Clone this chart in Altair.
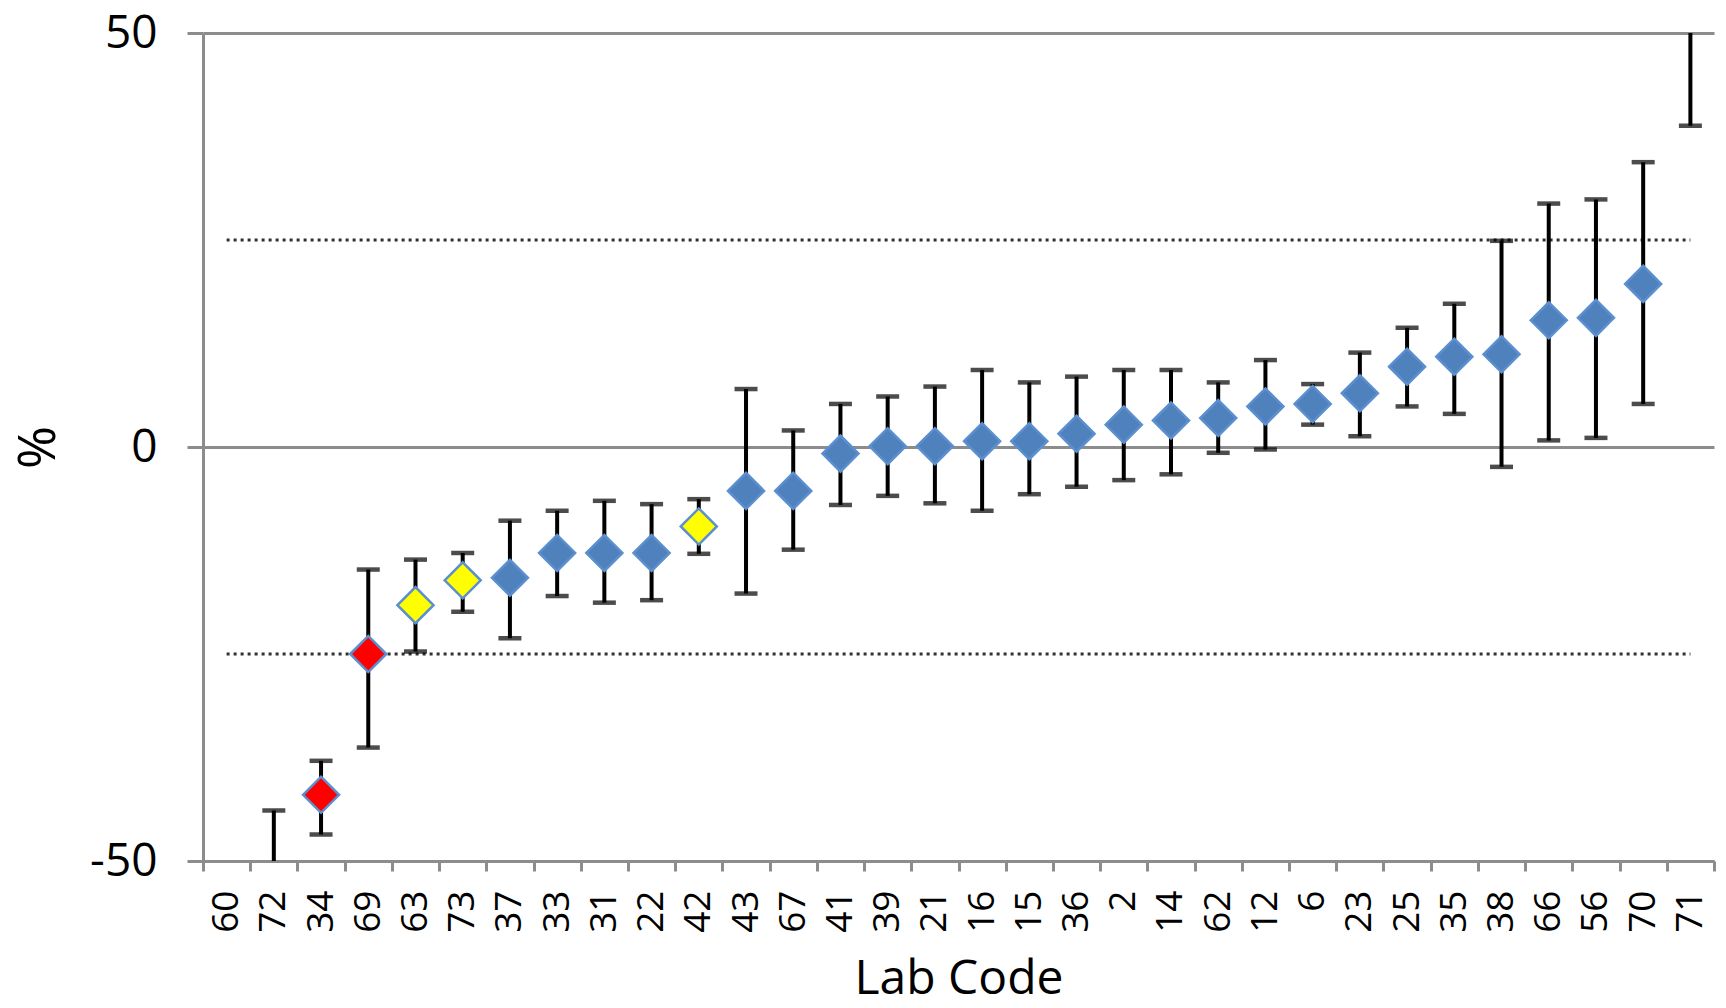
import altair as alt
import pandas as pd

# ---- data ----
codes = ["60", "72", "34", "69", "63", "73", "37", "33", "31", "22", "42", "43", "67",
         "41", "39", "21", "16", "15", "36", "2", "14", "62", "12", "6", "23", "25",
         "35", "38", "66", "56", "70", "71"]
values = [None, -58.0, -42.0, -25.0, -19.1, -16.1, -15.8, -12.8, -12.8, -12.8, -9.6, -5.3, -5.3,
          -0.8, 0.1, 0.1, 0.7, 0.7, 1.6, 2.7, 3.2, 3.5, 4.9, 5.2, 6.5, 9.7,
          10.9, 11.2, 15.3, 15.6, 19.7, 56.0]
upper = [None, -43.9, -37.9, -14.8, -13.6, -12.8, -8.9, -7.7, -6.5, -6.9, -6.3, 7.0, 2.0,
         5.2, 6.1, 7.3, 9.3, 7.8, 8.5, 9.3, 9.3, 7.8, 10.5, 7.6, 11.4, 14.4,
         17.3, 24.9, 29.4, 29.9, 34.4, 73.0]
lower = [None, -72.0, -46.8, -36.3, -24.7, -19.9, -23.1, -18.0, -18.8, -18.5, -12.9, -17.7, -12.4,
         -7.0, -5.9, -6.8, -7.7, -5.7, -4.8, -4.0, -3.3, -0.7, -0.3, 2.7, 1.3, 4.9,
         4.0, -2.4, 0.8, 1.1, 5.2, 38.8]
status = ["ok", "ok", "action", "action", "warning", "warning", "ok", "ok", "ok", "ok", "warning", "ok", "ok",
          "ok", "ok", "ok", "ok", "ok", "ok", "ok", "ok", "ok", "ok", "ok", "ok", "ok",
          "ok", "ok", "ok", "ok", "ok", "ok"]
limit_values = [25, -25]
status_domain = ["ok", "warning", "action"]
status_colors = ["#4F81BD", "#FFFF00", "#FF0000"]

df = pd.DataFrame({"code": codes, "value": values, "upper": upper,
                   "lower": lower, "status": status}).dropna()

limits = pd.DataFrame({
    "code": [codes[0], codes[-1]] * len(limit_values),
    "limit": [v for v in limit_values for _ in range(2)],
    "line": [str(v) for v in limit_values for _ in range(2)],
})

FONT = "Open Sans"

x_enc = alt.X("code:N", sort=codes,
              scale=alt.Scale(domain=codes, paddingInner=0, paddingOuter=0),
              axis=alt.Axis(title="Lab Code", labelAngle=270, labelFontSize=37, labelFont=FONT,
                            labelColor="black", labelPadding=19, labelAlign="right",
                            labelBaseline="middle",
                            tickBand="extent", tickSize=10, tickWidth=3, tickColor="#8C8C8C",
                            domainColor="#8C8C8C", domainWidth=3,
                            titleFont=FONT, titleFontSize=48, titleFontWeight="normal",
                            titleColor="black", titleY=132, titleBaseline="alphabetic"))

y_scale = alt.Scale(domain=[-50, 50], nice=False, zero=False)
y_axis = alt.Axis(title="%", values=[-50, 0, 50], grid=True, gridColor="#8C8C8C", gridWidth=3,
                  domainColor="#8C8C8C", domainWidth=3, tickColor="#8C8C8C", tickWidth=3,
                  tickSize=16, labelFontSize=46, labelFont=FONT, labelColor="black",
                  labelExpr="datum.value + ''",
                  labelPadding=30, titleFont=FONT, titleFontSize=52, titleFontWeight="normal",
                  titleColor="black", titleAngle=270, titleX=-165, titleY=414,
                  titleAlign="center", titleBaseline="middle")

dotted = alt.Chart(limits).mark_line(strokeDash=[3, 4], strokeWidth=3, color="#303030").encode(
    x=x_enc,
    y=alt.Y("limit:Q", scale=y_scale, axis=y_axis),
    detail="line:N",
)

stems = alt.Chart(df).mark_rule(color="black", strokeWidth=4, clip=True).encode(
    x=alt.X("code:N", sort=codes),
    y=alt.Y("lower:Q", scale=y_scale),
    y2="upper:Q",
)

cap_hi = alt.Chart(df).mark_tick(color="black", thickness=4.5, size=23, clip=True).encode(
    x=alt.X("code:N", sort=codes),
    y=alt.Y("upper:Q", scale=y_scale),
)
cap_lo = alt.Chart(df).mark_tick(color="black", thickness=4.5, size=23, clip=True).encode(
    x=alt.X("code:N", sort=codes),
    y=alt.Y("lower:Q", scale=y_scale),
)

points = alt.Chart(df).mark_point(shape="diamond", filled=True, size=1300, opacity=1,
                                  stroke="#5B8FCF", strokeWidth=2.5, clip=True).encode(
    x=alt.X("code:N", sort=codes),
    y=alt.Y("value:Q", scale=y_scale),
    fill=alt.Fill("status:N", scale=alt.Scale(domain=status_domain, range=status_colors),
                  legend=None),
)

chart = alt.layer(dotted, stems, cap_hi, cap_lo, points).properties(
    width=1511, height=828,
    autosize=alt.AutoSizeParams(type="none"),
    padding={"left": 203, "top": 33, "right": 12, "bottom": 147},
    background="white",
).configure_view(strokeWidth=0)

chart.save("out.html", embed_options={"renderer": "svg", "actions": False})
